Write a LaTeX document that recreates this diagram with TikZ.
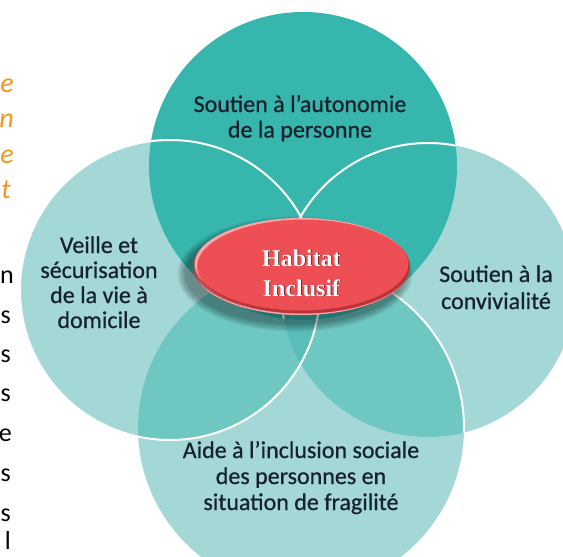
\documentclass[tikz,border=0pt]{standalone}
\usepackage{fontspec}
\setmainfont{Carlito}
\newfontfamily\lblfont{Carlito}[FakeBold=0.7]
\newfontfamily\habfont{Liberation Serif}
\usetikzlibrary{shapes.geometric}
\definecolor{lightc}{HTML}{A3D8D7}
\definecolor{medc}{HTML}{6EC7C1}
\definecolor{tric}{HTML}{58BFB8}
\definecolor{darkc}{HTML}{37B6AD}
\definecolor{redc}{HTML}{EE4F55}
\definecolor{rimc}{HTML}{A8292F}
\definecolor{haloc}{HTML}{5A1418}
\definecolor{txtc}{HTML}{18222E}
\definecolor{orangec}{HTML}{F7941D}
\tikzset{
  lbl/.style={anchor=base, inner sep=0pt, text=txtc, font=\lblfont\fontsize{24}{26}\selectfont},
  habtxt/.style={anchor=base, inner sep=0pt, font=\habfont\bfseries\fontsize{24}{26}\selectfont},
  margo/.style={anchor=base east, inner sep=0pt, text=orangec, font=\itshape\fontsize{28}{30}\selectfont},
  margb/.style={anchor=base east, inner sep=0pt, text=black, font=\fontsize{26}{28}\selectfont},
  wline/.style={draw=white, line width=2pt},
}
\begin{document}
\begin{tikzpicture}[x=1pt,y=-1pt]
\useasboundingbox (0,0) rectangle (563,557);
\clip (0,0) rectangle (563,557);
\fill[white] (0,0) rectangle (563,557);
% light circles
\fill[lightc] (170,290) circle[radius=150pt];
\fill[lightc] (428,290) circle[radius=147pt];
\fill[lightc] (301,428) circle[radius=163pt];
% overlaps with bottom circle
\begin{scope}
  \clip (301,428) circle[radius=163pt];
  \fill[medc] (170,290) circle[radius=150pt];
  \fill[medc] (428,290) circle[radius=147pt];
  \clip (170,290) circle[radius=150pt];
  \fill[tric] (428,290) circle[radius=147pt];
\end{scope}
% top circle
\fill[darkc] (303,166) circle[radius=154pt];
% white outlines
\draw[wline] (170,290) circle[radius=150pt];
\begin{scope}
  \clip (303,166) circle[radius=154pt];
  \draw[wline] (428,290) circle[radius=147pt];
\end{scope}
\begin{scope}
  \clip (428,290) circle[radius=147pt];
  \draw[wline] (301,428) circle[radius=163pt];
\end{scope}
% ellipse shadow
\foreach \i in {1,...,7}
  \fill[black, opacity=0.06] (295,274) ellipse[x radius={108.5pt+\i*1.3pt}, y radius={48.5pt+\i*1.3pt}];
% central ellipse
\node[ellipse, fill=redc, minimum width=217pt, minimum height=97pt, inner sep=0pt] (hab) at (301.5,266.5) {};
\begin{scope}
  \clip (301.5,266.5) ellipse[x radius=108.5pt, y radius=48.5pt];
  \draw[white, opacity=.5, line width=3pt] (304,266.5) ellipse[x radius=108.5pt, y radius=48.5pt];
  \draw[rimc, opacity=.7, line width=3pt] (301.5,263.5) ellipse[x radius=108.5pt, y radius=48.5pt];
\end{scope}
\node[habtxt, text=haloc] (h1s) at (302.3,266.8) {Habitat};
\node[habtxt, text=haloc] (h2s) at (302.3,296.8) {Inclusif};
\node[habtxt, text=white] (h1) at (301.5,266) {Habitat};
\node[habtxt, text=white] (h2) at (301.5,296) {Inclusif};
% labels
\node[lbl] (ta) at (300,112) {Soutien à l’autonomie};
\node[lbl] (tb) at (300,137.5) {de la personne};
\node[lbl] (la) at (99,253) {Veille et};
\node[lbl] (lb) at (99,278) {sécurisation};
\node[lbl] (lc) at (99,303) {de la vie à};
\node[lbl] (ld) at (99,328) {domicile};
\node[lbl] (ra) at (496,282) {Soutien à la};
\node[lbl] (rb) at (496,309) {convivialité};
\node[lbl] (ba) at (301,458) {Aide à l’inclusion sociale};
\node[lbl] (bb) at (301,484) {des personnes en};
\node[lbl] (bc) at (301,510) {situation de fragilité};
% margin letters (ends of a cropped text column)
\node[margo] (o1) at (14,92) {e};
\node[margo] (o2) at (14,127) {n};
\node[margo] (o3) at (14,163) {e};
\node[margo] (o4) at (11,198) {t};
\node[margb] (m1) at (14,283) {n};
\node[margb] (m2) at (11,323) {s};
\node[margb] (m3) at (11,362) {s};
\node[margb] (m4) at (11,401) {s};
\node[margb] (m5) at (12,441) {e};
\node[margb] (m6) at (11,481) {s};
\node[margb] (m7) at (11,521) {s};
\node[margb] (m8) at (11,549) {l};
\end{tikzpicture}
\end{document}
